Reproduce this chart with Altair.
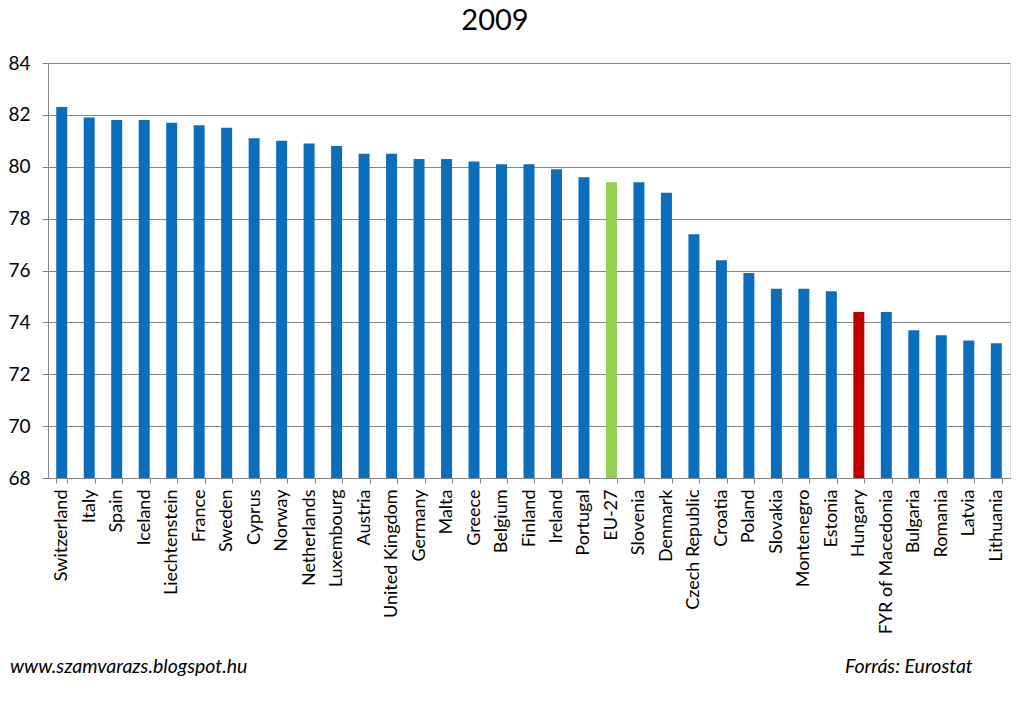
import altair as alt
import pandas as pd

countries = ["Switzerland", "Italy", "Spain", "Iceland", "Liechtenstein", "France", "Sweden",
             "Cyprus", "Norway", "Netherlands", "Luxembourg", "Austria", "United Kingdom",
             "Germany", "Malta", "Greece", "Belgium", "Finland", "Ireland", "Portugal", "EU-27",
             "Slovenia", "Denmark", "Czech Republic", "Croatia", "Poland", "Slovakia",
             "Montenegro", "Estonia", "Hungary", "FYR of Macedonia", "Bulgaria", "Romania",
             "Latvia", "Lithuania"]
values = [82.3, 81.9, 81.8, 81.8, 81.7, 81.6, 81.5, 81.1, 81.0, 80.9, 80.8, 80.5, 80.5,
          80.3, 80.3, 80.2, 80.1, 80.1, 79.9, 79.6, 79.4, 79.4, 79.0, 77.4, 76.4, 75.9,
          75.3, 75.3, 75.2, 74.4, 74.4, 73.7, 73.5, 73.3, 73.2]
groups = ["EU-27" if c == "EU-27" else ("Hungary" if c == "Hungary" else "other") for c in countries]
y_ticks = [68, 70, 72, 74, 76, 78, 80, 82, 84]

footer_left = ["www.szamvarazs.blogspot.hu"]
footer_right = ["Forrás: Eurostat"]

df = pd.DataFrame({"country": countries, "value": values, "group": groups})

FONT = "Lato"

bars = alt.Chart(df).mark_bar().encode(
    x=alt.X("country:N", sort=countries, title=None,
            scale=alt.Scale(paddingInner=0.6, paddingOuter=0.3),
            axis=alt.Axis(labelAngle=-90, labelFontSize=18, labelFont=FONT, labelColor="black",
                          labelPadding=6, tickBand="extent", tickSize=5, tickColor="#868686",
                          domainColor="#868686", labelLimit=200)),
    y=alt.Y("value:Q", title=None,
            scale=alt.Scale(domain=[68, 84], nice=False, zero=False),
            axis=alt.Axis(values=y_ticks, labelFontSize=19, labelFont=FONT, labelColor="black",
                          labelPadding=12, tickSize=6, tickColor="#868686", domainColor="#868686",
                          gridColor="#868686", gridWidth=1)),
    y2=alt.datum(68),
    color=alt.Color("group:N", legend=None,
                    scale=alt.Scale(domain=["other", "EU-27", "Hungary"],
                                    range=["#0A6EBD", "#92D050", "#C00000"])),
)

left_txt = alt.Chart(pd.DataFrame({"t": footer_left})).mark_text(
    font=FONT, fontSize=19.5, fontStyle="italic", align="left", baseline="alphabetic", color="black"
).encode(text="t:N", x=alt.value(10 - 48), y=alt.value(673 - 63))

right_txt = alt.Chart(pd.DataFrame({"t": footer_right})).mark_text(
    font=FONT, fontSize=19.5, fontStyle="italic", align="left", baseline="alphabetic", color="black"
).encode(text="t:N", x=alt.value(845 - 48), y=alt.value(673 - 63))

chart = alt.layer(bars, left_txt, right_txt).properties(
    width=962, height=415,
    title=alt.TitleParams("2009", fontSize=29, font=FONT, fontWeight="normal", color="black",
                          anchor="middle", dx=-34, offset=18),
    autosize=alt.AutoSizeParams(type="none"),
    padding={"left": 40, "top": 55, "right": 6, "bottom": 216},
).configure_view(stroke=None).configure(background="white")

chart.save("out.html", embed_options={"renderer": "svg", "actions": False})
